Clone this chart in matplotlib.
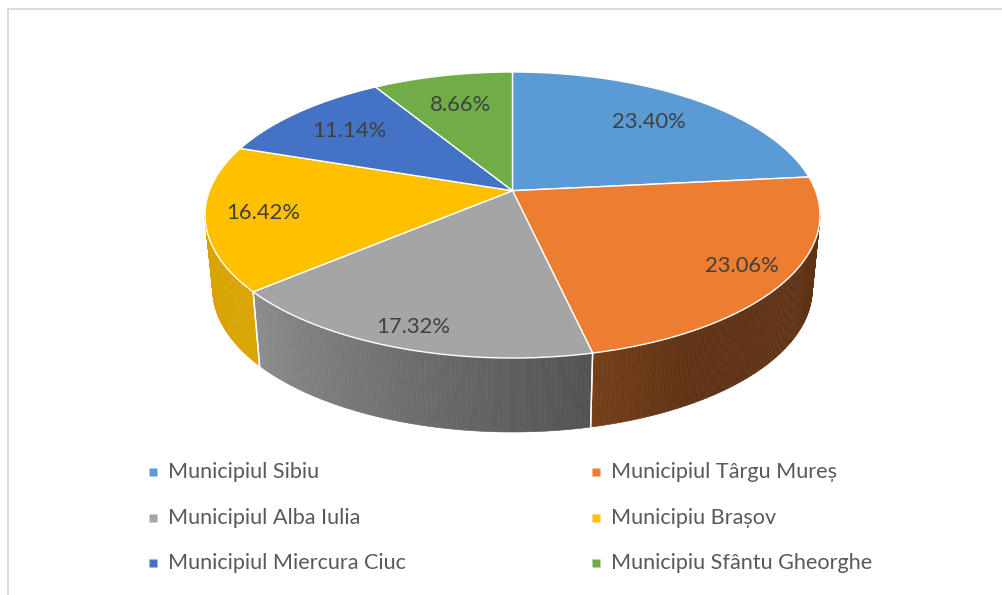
import numpy as np
import matplotlib
matplotlib.use('Agg')
import matplotlib.pyplot as plt
from matplotlib.collections import PolyCollection
from matplotlib.colors import to_rgb

# data
cities = ['Municipiul Sibiu', 'Municipiul Târgu Mureș', 'Municipiul Alba Iulia',
          'Municipiu Brașov', 'Municipiul Miercura Ciuc', 'Municipiu Sfântu Gheorghe']
shares = [23.40, 23.06, 17.32, 16.42, 11.14, 8.66]
colors = ['#5B9BD5', '#ED7D31', '#A5A5A5', '#FFC000', '#4472C4', '#70AD47']
share_labels = ['23.40%', '23.06%', '17.32%', '16.42%', '11.14%', '8.66%']

# pie geometry (pixel space of the picture)
CX, CY = 512.5, 215.0     # centre of the top ellipse
RX, RY = 307.5, 143.0     # half axes of the top ellipse
G = 0.17                  # perspective strength
DEPTH = 74.0              # height of the side wall
SHRINK = 0.975            # bottom rim a bit narrower (perspective)
S = RX * np.sqrt(1 - G**2)

def proj(r, th):
    ''' point on the pie disc (radius r, angle th) -> picture pixels '''
    u = r * np.cos(th)
    v = r * np.sin(th)
    w = 1 + G * v
    return CX + S * u / w, CY - RY * (v + G) / w

def proj_bottom(th):
    x, y = proj(1.0, th)
    return CX + SHRINK * (x - CX), y + DEPTH

def shade(th):
    ''' side wall lighting, brighter on the left '''
    a = np.clip((-np.degrees(th) - 60) / 80.0, 0, 1)
    return 0.40 + 0.45 * a

plt.rcParams['font.family'] = ['Lato', 'DejaVu Sans']
fig = plt.figure(figsize=(10.03, 5.95), dpi=100)
ax = fig.add_axes([0, 0, 1, 1])
ax.set_xlim(0, 1003)
ax.set_ylim(595, 0)
ax.axis('off')

# frame of the chart area
ax.plot([8, 8, 1003], [595, 9, 9], color='#d9d9d9', lw=1.3, solid_capstyle='butt')

fr = np.array(shares) / sum(shares)
bounds = np.radians(90 - 360 * np.concatenate([[0], np.cumsum(fr)]))
vis_lo, vis_hi = -np.pi + np.arcsin(G), -np.arcsin(G)

# 1 - side walls
for i in range(len(shares)):
    a0, a1 = bounds[i + 1], bounds[i]
    lo, hi = max(a0, vis_lo), min(a1, vis_hi)
    if lo >= hi:
        continue
    ts = np.linspace(lo, hi, max(int(np.degrees(hi - lo) * 2), 2))
    base = np.array(to_rgb(colors[i]))
    quads, fcs = [], []
    for t0, t1 in zip(ts[:-1], ts[1:]):
        quads.append([proj(1, t0), proj(1, t1), proj_bottom(t1), proj_bottom(t0)])
        fcs.append(base * shade((t0 + t1) / 2))
    ax.add_collection(PolyCollection(quads, facecolors=fcs, edgecolors=fcs,
                                     linewidths=0.4))
    # white seams between walls
    for b in (a0, a1):
        if vis_lo < b < vis_hi:
            p, q = proj(1, b), proj_bottom(b)
            ax.plot([p[0], q[0]], [p[1], q[1]], color='white', lw=1.0)

# 2 - top faces
for i in range(len(shares)):
    ts = np.linspace(bounds[i], bounds[i + 1], 200)
    pts = [proj(0, 0)] + [proj(1, t) for t in ts]
    ax.add_patch(plt.Polygon(pts, closed=True, facecolor=colors[i],
                             edgecolor='white', lw=1.0, joinstyle='round'))

# 3 - data labels (front slices get their label a bit further out)
for i in range(len(shares)):
    mid = (bounds[i] + bounds[i + 1]) / 2
    x, y = proj(0.80 - 0.09 * np.sin(mid), mid)
    ax.text(x, y, share_labels[i], ha='center', va='center',
            fontsize=15.8, color='#404040')

# 4 - legend, two columns, row-wise
col_x = [153, 596]
row_y = [472, 518, 563]
for i, name in enumerate(cities):
    x, y = col_x[i % 2], row_y[i // 2]
    ax.plot(x, y, marker='s', ms=5.5, color=colors[i], mec='none')
    ax.text(x + 15, y, name, ha='left', va='center', fontsize=15.6, color='#595959')

fig.savefig('out.png', dpi=100)
